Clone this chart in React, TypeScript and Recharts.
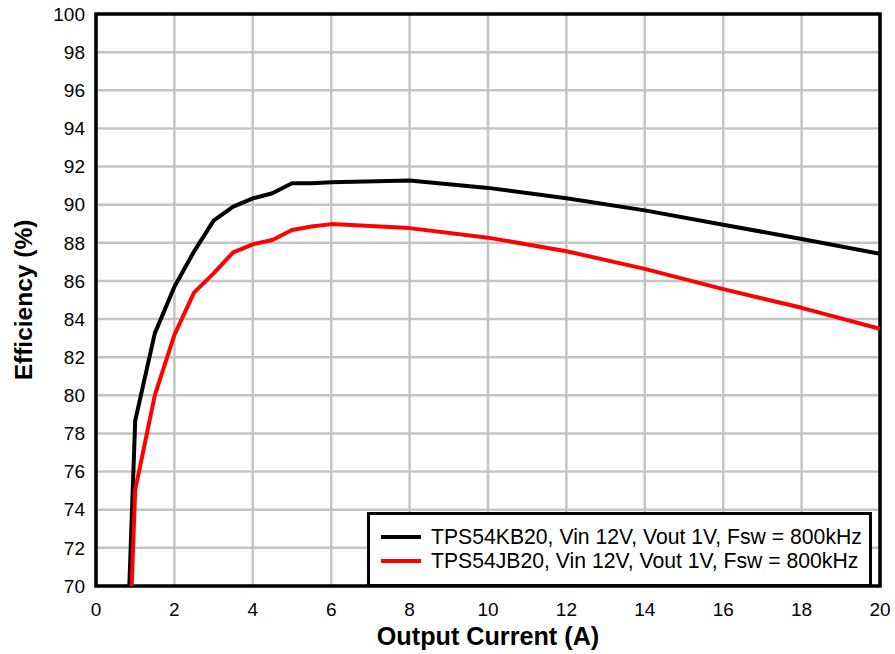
import React from 'react';
import { LineChart, Line, XAxis, YAxis, CartesianGrid, ReferenceArea, Legend, Label } from 'recharts';

const currentKB = [0.85, 1.0, 1.5, 2.0, 2.5, 3.0, 3.5, 4.0, 4.5, 5.0, 5.5, 6.0, 8, 10, 12, 14, 16, 18, 20];
const efficiencyKB = [70, 78.67, 83.25, 85.7, 87.54, 89.16, 89.9, 90.33, 90.6, 91.12, 91.12, 91.17, 91.27, 90.88, 90.34, 89.7, 88.95, 88.2, 87.43];

const currentJB = [0.91, 1.0, 1.5, 2.0, 2.5, 3.0, 3.5, 4.0, 4.5, 5.0, 5.5, 6.0, 8, 10, 12, 14, 16, 18, 20];
const efficiencyJB = [70, 75.04, 80.0, 83.17, 85.39, 86.4, 87.5, 87.92, 88.15, 88.67, 88.85, 88.98, 88.77, 88.27, 87.56, 86.63, 85.57, 84.59, 83.49];

const xTicks = [0, 2, 4, 6, 8, 10, 12, 14, 16, 18, 20];
const yTicks = [70, 72, 74, 76, 78, 80, 82, 84, 86, 88, 90, 92, 94, 96, 98, 100];

const seriesNames = [
  'TPS54KB20, Vin 12V, Vout 1V, Fsw = 800kHz',
  'TPS54JB20, Vin 12V, Vout 1V, Fsw = 800kHz',
];

const dataKB = currentKB.map((x, i) => ({ x, y: efficiencyKB[i] }));
const dataJB = currentJB.map((x, i) => ({ x, y: efficiencyJB[i] }));

const FONT = '"Liberation Sans", Arial, sans-serif';

const renderLegend = (props: any) => {
  const payload = [...(props.payload || [])].sort(
    (a: any, b: any) => seriesNames.indexOf(a.value) - seriesNames.indexOf(b.value)
  );
  return (
    <div
      style={{
        boxSizing: 'border-box',
        width: 505,
        height: 75,
        border: '3px solid #000',
        background: '#fff',
        paddingTop: 10,
        fontFamily: FONT,
        fontSize: 21.2,
        color: '#000',
      }}
    >
      {payload.map((entry: any, i: number) => (
        <div key={i} style={{ display: 'flex', alignItems: 'center', height: 24.3 }}>
          <div style={{ marginLeft: 11, width: 40, height: 4, background: entry.color }} />
          <span style={{ marginLeft: 10, whiteSpace: 'nowrap', lineHeight: '24px' }}>{entry.value}</span>
        </div>
      ))}
    </div>
  );
};

const YTitle = (props: any) => {
  const vb = props.viewBox;
  const cx = 23;
  const cy = vb.y + vb.height / 2;
  return (
    <text
      x={cx}
      y={cy}
      transform={`rotate(-90, ${cx}, ${cy})`}
      textAnchor="middle"
      dominantBaseline="central"
      style={{ fontFamily: FONT, fontSize: 24.5, fontWeight: 'bold', fill: '#000' }}
    >
      Efficiency (%)
    </text>
  );
};

const XTitle = (props: any) => {
  const vb = props.viewBox;
  return (
    <text
      x={vb.x + vb.width / 2}
      y={645}
      textAnchor="middle"
      style={{ fontFamily: FONT, fontSize: 25.2, fontWeight: 'bold', fill: '#000' }}
    >
      Output Current (A)
    </text>
  );
};

export default function App() {
  return (
    <div style={{ position: 'absolute', left: 0, top: 0, width: 895, height: 654, background: '#fff' }}>
      <LineChart width={895} height={654} margin={{ top: 14, right: 15, left: 0, bottom: 0 }}>
        <CartesianGrid stroke="#c4c4c4" strokeWidth={2.5} vertical horizontal />
        <XAxis
          dataKey="x"
          type="number"
          domain={[0, 20]}
          ticks={xTicks}
          interval={0}
          height={68}
          tickLine={false}
          tickMargin={11}
          axisLine={false}
          allowDataOverflow
          tick={{ fontFamily: FONT, fontSize: 19, fill: '#000' }}
        >
          <Label content={<XTitle />} />
        </XAxis>
        <YAxis
          type="number"
          domain={[70, 100]}
          ticks={yTicks}
          interval={0}
          width={96}
          tickLine={false}
          tickMargin={5}
          axisLine={false}
          allowDataOverflow
          tick={{ fontFamily: FONT, fontSize: 19, fill: '#000' }}
        >
          <Label content={<YTitle />} />
        </YAxis>
        <Line
          data={dataKB}
          dataKey="y"
          name={seriesNames[0]}
          stroke="#000000"
          strokeWidth={4}
          dot={false}
          activeDot={false}
          isAnimationActive={false}
          strokeLinejoin="round"
        />
        <Line
          data={dataJB}
          dataKey="y"
          name={seriesNames[1]}
          stroke="#ff0000"
          strokeWidth={4}
          dot={false}
          activeDot={false}
          isAnimationActive={false}
          strokeLinejoin="round"
        />
        <ReferenceArea x1={0} x2={20} y1={70} y2={100} fill="none" stroke="#000" strokeWidth={3.5} ifOverflow="visible" />
        <Legend
          layout="vertical"
          align="center"
          verticalAlign="middle"
          content={renderLegend}
          wrapperStyle={{ position: 'absolute', left: 367, top: 512, width: 505, height: 75 }}
        />
      </LineChart>
    </div>
  );
}
